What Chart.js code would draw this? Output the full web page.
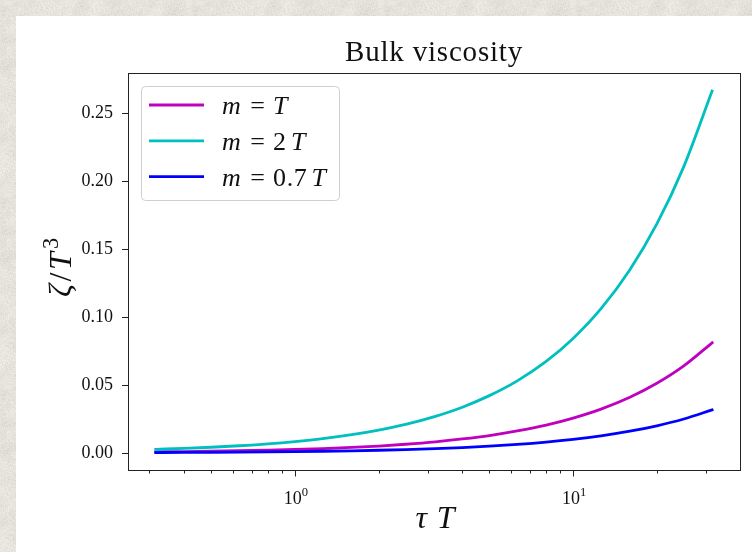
<!DOCTYPE html>
<html>
<head>
<meta charset="utf-8">
<title>Bulk viscosity</title>
<script src="https://cdn.jsdelivr.net/npm/chart.js@4.4.1/dist/chart.umd.min.js"></script>
<style>
  html, body { margin: 0; padding: 0; width: 752px; height: 552px; overflow: hidden; background: #e6e4dc; }
  #panel { position: absolute; left: 16px; top: 16px; width: 736px; height: 536px; background: #fff; }
</style>
</head>
<body>
<div id="panel"><canvas id="chart"></canvas></div>
<script>
// tau*T sample points and zeta/T^3 for each mass
const tauT = [0.316, 0.4, 0.5, 0.63, 0.8, 1, 1.26, 1.6, 2, 2.5, 3.2, 4, 5, 6.3, 8, 10, 12.6, 16, 20, 25, 31.6];
const zetaM1 = [0.00082, 0.00103, 0.00128, 0.00162, 0.00205, 0.00257, 0.00323, 0.0041, 0.0051, 0.0064, 0.0082, 0.0103, 0.0128, 0.0162, 0.0205, 0.0257, 0.0323, 0.0410, 0.0513, 0.0641, 0.0811];
const zetaM2 = [0.0027, 0.0034, 0.0042, 0.0053, 0.0067, 0.0084, 0.0106, 0.0135, 0.0169, 0.0211, 0.0270, 0.0337, 0.0422, 0.0531, 0.0674, 0.0843, 0.1062, 0.1349, 0.1686, 0.2108, 0.2664];
const zetaM07 = [0.00032, 0.0004, 0.0005, 0.00063, 0.0008, 0.0010, 0.00126, 0.0016, 0.0020, 0.0025, 0.0032, 0.0040, 0.0050, 0.0063, 0.0080, 0.0100, 0.0126, 0.0160, 0.0200, 0.0250, 0.0317];

const seriesLabels = ['m = T', 'm = 2 T', 'm = 0.7 T'];
const seriesColors = ['#bf00bf', '#00bfbf', '#0000ff'];

const yTickVals = [0, 0.05, 0.10, 0.15, 0.20, 0.25];
const xMajorTicks = [1, 10];
const xMinorTicks = [0.3, 0.4, 0.5, 0.6, 0.7, 0.8, 0.9, 2, 3, 4, 5, 6, 7, 8, 9, 20, 30];

const SERIF = '"Liberation Serif", "DejaVu Serif", serif';
const INK = '#111';

// speckled paper behind the white panel
(function paintBackground() {
  const size = 192;
  const coarse = document.createElement('canvas');
  coarse.width = coarse.height = size / 6;
  const cc = coarse.getContext('2d');
  const cimg = cc.createImageData(size / 6, size / 6);
  for (let i = 0; i < cimg.data.length / 4; i++) {
    const n = (Math.random() - 0.5) * 14;
    cimg.data[i * 4] = 229 + n;
    cimg.data[i * 4 + 1] = 227 + n;
    cimg.data[i * 4 + 2] = 219 + n;
    cimg.data[i * 4 + 3] = 255;
  }
  cc.putImageData(cimg, 0, 0);

  const out = document.createElement('canvas');
  out.width = out.height = size;
  const oc = out.getContext('2d');
  oc.imageSmoothingEnabled = true;
  oc.filter = 'blur(2px)';
  oc.drawImage(coarse, 0, 0, size, size);
  oc.filter = 'none';
  const img = oc.getImageData(0, 0, size, size);
  for (let i = 0; i < size * size; i++) {
    const n = (Math.random() - 0.5) * 16;
    img.data[i * 4] += n;
    img.data[i * 4 + 1] += n;
    img.data[i * 4 + 2] += n;
  }
  oc.putImageData(img, 0, 0);
  document.body.style.backgroundImage = 'url(' + out.toDataURL() + ')';
})();

// split a label into pieces: letters italic, digits upright, spaces as math gaps
function mathParts(str) {
  const chars = [...str];
  const parts = [];
  chars.forEach((ch, i) => {
    if (ch === ' ') {
      const nearEq = chars[i - 1] === '=' || chars[i + 1] === '=';
      parts.push({ t: '', gap: nearEq ? 0.3 : 0.17 });
      return;
    }
    const italic = /[A-Za-z\u03b6\u03c4]/.test(ch);
    parts.push({ t: ch, italic, pad: italic ? 0.06 : 0.02 });
  });
  return parts;
}

function drawParts(ctx, parts, x, y, size, align) {
  const widths = parts.map(p => {
    if (p.gap) return p.gap * size;
    const s = p.sup ? size * 0.7 : size;
    ctx.font = (p.italic ? 'italic ' : '') + s + 'px ' + SERIF;
    return ctx.measureText(p.t).width + (p.pad || 0) * size;
  });
  const total = widths.reduce((a, b) => a + b, 0);
  let cx = align === 'center' ? x - total / 2 : x;
  parts.forEach((p, i) => {
    if (!p.gap) {
      const s = p.sup ? size * 0.7 : size;
      ctx.font = (p.italic ? 'italic ' : '') + s + 'px ' + SERIF;
      ctx.fillText(p.t, cx, p.sup ? y - size * 0.42 : y);
    }
    cx += widths[i];
  });
  return total;
}

const decorations = {
  id: 'decorations',
  afterDraw(chart) {
    const { ctx, chartArea: a, scales } = chart;
    const xs = scales.x, ys = scales.y;
    ctx.save();
    ctx.strokeStyle = '#222';
    ctx.fillStyle = INK;
    ctx.lineWidth = 1;

    // axes frame
    ctx.strokeRect(Math.round(a.left) + 0.5, Math.round(a.top) + 0.5,
      Math.round(a.right - a.left), Math.round(a.bottom - a.top));

    // tick marks
    ctx.beginPath();
    yTickVals.forEach(v => {
      const py = Math.round(ys.getPixelForValue(v)) + 0.5;
      ctx.moveTo(a.left, py); ctx.lineTo(a.left - 6, py);
    });
    xMajorTicks.forEach(v => {
      const px = Math.round(xs.getPixelForValue(v)) + 0.5;
      ctx.moveTo(px, a.bottom); ctx.lineTo(px, a.bottom + 6.5);
    });
    xMinorTicks.forEach(v => {
      const px = Math.round(xs.getPixelForValue(v)) + 0.5;
      ctx.moveTo(px, a.bottom); ctx.lineTo(px, a.bottom + 3.5);
    });
    ctx.stroke();

    // x tick labels as powers of ten
    ctx.textBaseline = 'alphabetic';
    ctx.textAlign = 'left';
    xMajorTicks.forEach(v => {
      const px = xs.getPixelForValue(v);
      const exp = String(Math.round(Math.log10(v)));
      drawParts(ctx, [{ t: '10' }, { t: exp, sup: true }], px + 1, a.bottom + 34, 18, 'center');
    });

    // title
    ctx.font = '29px ' + SERIF;
    ctx.letterSpacing = '0.8px';
    ctx.textAlign = 'center';
    ctx.fillText('Bulk viscosity', (a.left + a.right) / 2, 45);
    ctx.letterSpacing = '0px';

    // axis labels
    ctx.textAlign = 'left';
    drawParts(ctx, [{ t: '\u03c4', italic: true, pad: 0.3 }, { t: 'T', italic: true }],
      (a.left + a.right) / 2 + 1, 512, 32, 'center');
    ctx.save();
    ctx.translate(55, (a.top + a.bottom) / 2 - 4);
    ctx.rotate(-Math.PI / 2);
    drawParts(ctx, [{ t: '\u03b6', italic: true, pad: 0.08 }, { t: '/', pad: 0.08 }, { t: 'T', italic: true, pad: 0.1 }, { t: '3', sup: true }],
      0, 0, 32, 'center');
    ctx.restore();

    // legend
    const lx = a.left + 13, ly = a.top + 13, lw = 198, lh = 114;
    ctx.beginPath();
    ctx.roundRect(lx + 0.5, ly + 0.5, lw, lh, 4);
    ctx.fillStyle = 'rgba(255,255,255,0.8)';
    ctx.fill();
    ctx.strokeStyle = '#cfcfcf';
    ctx.stroke();
    chart.data.datasets.forEach((ds, i) => {
      const cy = ly + 19 + i * 35.8;
      ctx.beginPath();
      ctx.strokeStyle = ds.borderColor;
      ctx.lineWidth = 2.8;
      ctx.moveTo(lx + 8, cy); ctx.lineTo(lx + 63, cy);
      ctx.stroke();
      ctx.fillStyle = INK;
      drawParts(ctx, mathParts(ds.label), lx + 81, cy + 9, 26, 'left');
    });
    ctx.restore();
  }
};

const ctx = document.getElementById('chart').getContext('2d');
new Chart(ctx, {
  type: 'line',
  data: {
    datasets: [
      { label: seriesLabels[0], data: tauT.map((x, i) => ({ x, y: zetaM1[i] })), borderColor: seriesColors[0], order: 2 },
      { label: seriesLabels[1], data: tauT.map((x, i) => ({ x, y: zetaM2[i] })), borderColor: seriesColors[1], order: 1 },
      { label: seriesLabels[2], data: tauT.map((x, i) => ({ x, y: zetaM07[i] })), borderColor: seriesColors[2], order: 0 }
    ]
  },
  options: {
    responsive: true,
    maintainAspectRatio: false,
    animation: false,
    events: [],
    layout: { padding: { top: 57, right: 12, left: 0, bottom: 0 } },
    elements: {
      point: { radius: 0 },
      line: { borderWidth: 2.8, cubicInterpolationMode: 'monotone', borderCapStyle: 'square', fill: false }
    },
    plugins: { legend: { display: false }, title: { display: false }, tooltip: { enabled: false } },
    scales: {
      x: {
        type: 'logarithmic',
        min: Math.pow(10, -0.6),
        max: Math.pow(10, 1.6),
        border: { display: false },
        grid: { display: false, drawTicks: false },
        ticks: { display: false },
        afterFit(scale) { scale.height = 82; }
      },
      y: {
        min: -0.01254,
        max: 0.2797,
        border: { display: false },
        grid: { display: false, drawTicks: false },
        ticks: {
          padding: 15,
          color: INK,
          font: { family: SERIF, size: 18 },
          callback: v => v.toFixed(2)
        },
        afterBuildTicks(scale) { scale.ticks = yTickVals.map(value => ({ value })); },
        afterFit(scale) { scale.width = 112; }
      }
    }
  },
  plugins: [decorations]
});
</script>
</body>
</html>
